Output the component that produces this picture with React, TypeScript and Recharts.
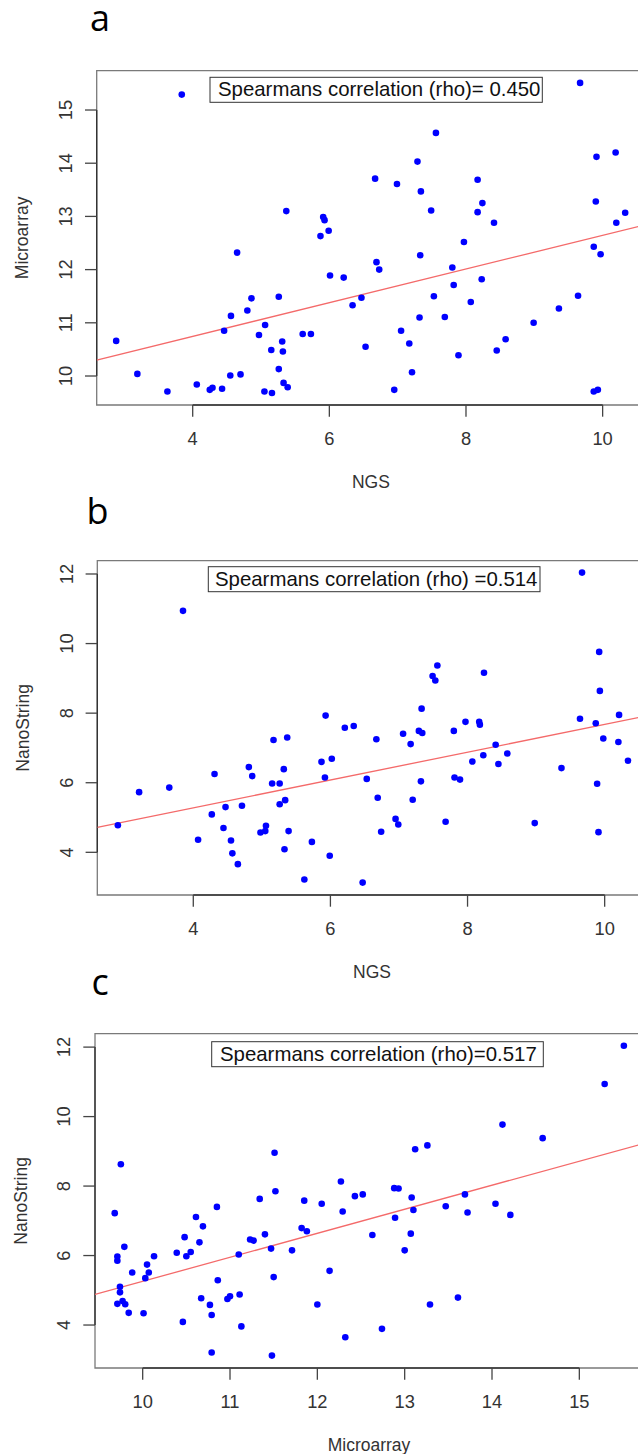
import React from 'react'
import { ScatterChart, Scatter, XAxis, YAxis, ReferenceLine, ReferenceArea, Label } from 'recharts'

// panel a: NGS vs Microarray
const ngsA = [
  3.84, 2.88, 3.19, 3.63, 4.06, 4.25, 4.29, 4.43, 4.46, 4.56, 4.55, 4.65, 4.7, 4.8, 4.86, 4.97,
  5.06, 5.05, 5.16, 5.15, 5.26, 5.26, 5.31, 5.32, 5.33, 5.39, 5.37, 5.61, 5.73, 5.87, 5.91, 5.93,
  5.99, 6.01, 6.21, 6.34, 6.47, 6.53, 6.67, 6.69, 6.73, 6.95, 6.99, 7.05, 7.17, 7.21, 7.29, 7.34,
  7.33, 7.32, 7.49, 7.53, 7.56, 7.69, 7.8, 7.82, 7.89, 7.97, 8.07, 8.17, 8.17, 8.24, 8.23, 8.41,
  8.45, 8.58, 8.99, 9.36, 9.64, 9.67, 9.91, 9.9, 9.87, 9.97, 9.87, 9.93, 10.19, 10.2, 10.33,
]
const microA = [
  15.29, 10.66, 10.04, 9.71, 9.84, 9.74, 9.78, 9.76, 10.85, 11.13, 10.01, 12.32, 10.03, 11.23, 11.46, 10.77,
  10.96, 9.71, 9.68, 10.49, 11.49, 10.13, 10.65, 10.46, 9.87, 9.79, 13.1, 10.79, 10.79, 12.63, 12.99, 12.93,
  12.73, 11.89, 11.85, 11.33, 11.47, 10.55, 13.71, 12.14, 12.0, 9.74, 13.61, 10.85, 10.61, 10.07, 14.03, 13.47,
  12.27, 11.1, 13.11, 11.5, 14.57, 11.11, 12.04, 11.71, 10.39, 12.52, 11.39, 13.69, 13.08, 13.25, 11.82, 12.88,
  10.48, 10.69, 11.0, 11.27, 11.51, 15.51, 14.12, 13.28, 12.43, 12.29, 9.71, 9.74, 14.2, 12.88, 13.07,
]
const fitA = [
  { x: 2.595, y: 10.3 },
  { x: 10.62, y: 12.84 },
]

// panel b: NGS vs NanoString
const ngsB = [
  3.85, 2.9, 3.21, 3.65, 4.07, 4.27, 4.31, 4.44, 4.47, 4.55, 4.57, 4.65, 4.71, 4.81, 4.86, 4.98,
  5.05, 5.06, 5.15, 5.17, 5.26, 5.26, 5.32, 5.34, 5.33, 5.37, 5.39, 5.62, 5.73, 5.87, 5.92, 5.93,
  5.99, 6.02, 6.21, 6.34, 6.47, 6.53, 6.67, 6.69, 6.74, 6.95, 6.99, 7.06, 7.17, 7.2, 7.29, 7.34,
  7.33, 7.32, 7.49, 7.53, 7.56, 7.68, 7.8, 7.81, 7.89, 7.97, 8.07, 8.17, 8.18, 8.24, 8.23, 8.41,
  8.45, 8.58, 8.98, 9.37, 9.64, 9.67, 9.92, 9.93, 9.87, 9.98, 9.89, 9.91, 10.21, 10.2, 10.34,
]
const nanoB = [
  10.94, 4.78, 5.73, 5.86, 4.36, 5.09, 6.25, 4.7, 5.3, 4.34, 3.97, 3.66, 5.34, 6.45, 6.19, 4.57,
  4.61, 4.76, 5.98, 7.23, 5.98, 5.38, 6.39, 5.5, 4.09, 7.3, 4.61, 3.22, 4.3, 6.6, 6.15, 7.93,
  3.9, 6.69, 7.58, 7.63, 3.13, 6.11, 7.25, 5.57, 4.59, 4.96, 4.8, 7.41, 7.11, 5.51, 7.49, 7.43,
  8.13, 6.04, 9.07, 8.94, 9.37, 4.88, 7.49, 6.15, 6.09, 7.75, 6.61, 7.75, 7.67, 9.16, 6.79, 7.09,
  6.54, 6.84, 4.84, 6.42, 7.84, 12.04, 9.76, 8.64, 7.71, 7.27, 5.97, 4.58, 7.95, 7.17, 6.63,
]
const fitB = [
  { x: 2.6, y: 4.72 },
  { x: 10.61, y: 7.92 },
]

// panel c: Microarray vs NanoString
const microC = [
  9.68, 9.75, 9.71, 9.71, 9.79, 9.74, 9.74, 9.71, 9.77, 9.8, 9.84, 9.88, 10.01, 10.03, 10.05, 10.07,
  10.13, 10.39, 10.46, 10.48, 10.5, 10.55, 10.61, 10.65, 10.67, 10.69, 10.77, 10.79, 10.79, 10.85, 10.86, 10.97,
  11.0, 11.1, 11.11, 11.13, 11.23, 11.27, 11.34, 11.4, 11.47, 11.48, 11.5, 11.51, 11.52, 11.71, 11.82, 11.85,
  11.88, 12.0, 12.05, 12.14, 12.27, 12.29, 12.32, 12.43, 12.52, 12.63, 12.74, 12.88, 12.93, 12.89, 13.0, 13.08,
  13.1, 13.07, 13.12, 13.26, 13.29, 13.47, 13.61, 13.69, 13.72, 14.04, 14.12, 14.21, 14.58, 15.29, 15.51,
]
const nanoC = [
  7.22, 8.63, 5.97, 5.85, 6.25, 5.1, 4.94, 4.61, 4.69, 4.6, 4.35, 5.51, 4.34, 5.35, 5.74, 5.51,
  5.98, 6.08, 4.09, 6.53, 5.98, 6.1, 7.11, 6.38, 4.77, 6.84, 4.58, 4.29, 3.21, 7.4, 5.29, 4.75,
  4.83, 6.03, 4.88, 3.96, 6.46, 6.43, 7.63, 6.61, 6.2, 3.12, 5.38, 8.96, 7.85, 6.15, 6.79, 7.58,
  6.7, 4.59, 7.49, 5.56, 8.13, 7.27, 3.65, 7.71, 7.76, 6.59, 3.89, 7.94, 7.93, 7.09, 6.15, 7.67,
  7.31, 6.63, 9.06, 9.17, 4.59, 7.42, 4.79, 7.76, 7.24, 7.49, 9.77, 7.17, 9.38, 10.94, 12.04,
]
const fitC = [
  { x: 9.454, y: 4.88 },
  { x: 15.73, y: 9.22 },
]

const ngsTicks = [4, 6, 8, 10]
const microTicksX = [10, 11, 12, 13, 14, 15]
const microTicksY = [10, 11, 12, 13, 14, 15]
const nanoTicks = [4, 6, 8, 10, 12]

const rhoA = 'Spearmans correlation (rho)= 0.450'
const rhoB = 'Spearmans correlation (rho) =0.514'
const rhoC = 'Spearmans correlation (rho)=0.517'

const axisFont = '"Liberation Sans Narrow", "Liberation Sans", Arial, sans-serif'
const textFont = '"Liberation Sans", Arial, sans-serif'

const Dot = (p: any) => <circle cx={p.cx} cy={p.cy} r={3.3} fill="#0000ff" />

function Panel({
  top,
  plotLeft,
  plotRight,
  xs,
  ys,
  xDomain,
  yDomain,
  xTicks,
  yTicks,
  fit,
  xTitle,
  yTitle,
}: {
  top: number
  plotLeft: number
  plotRight: number
  xs: number[]
  ys: number[]
  xDomain: [number, number]
  yDomain: [number, number]
  xTicks: number[]
  yTicks: number[]
  fit: { x: number; y: number }[]
  xTitle: string
  yTitle: string
}) {
  const data = xs.map((x, i) => ({ x, y: ys[i] }))
  const W = 660
  const H = 500
  return (
    <div style={{ position: 'absolute', left: 0, top, width: W, height: H }}>
      <ScatterChart width={W} height={H} margin={{ top: 70.7, right: W - plotRight, bottom: 0, left: 0 }}>
        <XAxis
          type="number"
          dataKey="x"
          domain={xDomain}
          ticks={xTicks}
          interval={0}
          allowDataOverflow
          axisLine={false}
          tickLine={{ stroke: '#444', strokeWidth: 1.3 }}
          tickSize={11.7}
          tickMargin={0}
          height={95}
          tick={(p: any) => (
            <text x={p.x} y={p.y + 28.3} textAnchor="middle" fontFamily={axisFont} fontSize={18.3} fill="#333">
              {p.payload.value}
            </text>
          )}
        >
          <Label
            content={(p: any) => (
              <text
                x={p.viewBox.x + p.viewBox.width / 2}
                y={p.viewBox.y + 82.5}
                textAnchor="middle"
                fontFamily={textFont}
                fontSize={17.5}
                fill="#333"
              >
                {xTitle}
              </text>
            )}
          />
        </XAxis>
        <YAxis
          type="number"
          dataKey="y"
          domain={yDomain}
          ticks={yTicks}
          interval={0}
          allowDataOverflow
          axisLine={false}
          tickLine={{ stroke: '#444', strokeWidth: 1.3 }}
          tickSize={11.7}
          tickMargin={0}
          width={plotLeft}
          tick={(p: any) => (
            <text
              transform={`translate(${p.x - 13},${p.y}) rotate(-90)`}
              textAnchor="middle"
              fontFamily={axisFont}
              fontSize={18.3}
              fill="#333"
            >
              {p.payload.value}
            </text>
          )}
        >
          <Label
            content={(p: any) => (
              <text
                transform={`translate(${p.viewBox.x + p.viewBox.width - 68.5},${p.viewBox.y + p.viewBox.height / 2}) rotate(-90)`}
                textAnchor="middle"
                fontFamily={textFont}
                fontSize={17.5}
                fill="#333"
              >
                {yTitle}
              </text>
            )}
          />
        </YAxis>
        <ReferenceArea
          x1={xDomain[0]}
          x2={xDomain[1]}
          y1={yDomain[0]}
          y2={yDomain[1]}
          fill="none"
          fillOpacity={0}
          stroke="#7a7a7a"
          strokeWidth={1.3}
          ifOverflow="visible"
        />
        <ReferenceLine
          segment={[
            { x: xTicks[0], y: yDomain[0] },
            { x: xTicks[xTicks.length - 1], y: yDomain[0] },
          ]}
          stroke="#333"
          strokeWidth={1.4}
          ifOverflow="visible"
        />
        <ReferenceLine
          segment={[
            { x: xDomain[0], y: yTicks[0] },
            { x: xDomain[0], y: yTicks[yTicks.length - 1] },
          ]}
          stroke="#333"
          strokeWidth={1.4}
          ifOverflow="visible"
        />
        <Scatter data={data} shape={Dot} isAnimationActive={false} />
        <ReferenceLine segment={fit} stroke="#f46a6a" strokeWidth={1.3} ifOverflow="hidden" />
      </ScatterChart>
    </div>
  )
}

function RhoBox({ x, y, w, tx, text }: { x: number; y: number; w: number; tx: number; text: string }) {
  return (
    <g>
      <rect x={x} y={y} width={w} height={25} fill="#fff" stroke="#333" strokeWidth={1} />
      <text x={tx} y={y + 19} fontFamily={textFont} fontSize={20.4} fill="#111" style={{ whiteSpace: 'pre' }}>
        {text}
      </text>
    </g>
  )
}

export default function App() {
  return (
    <div
      style={{
        position: 'absolute',
        left: 0,
        top: 0,
        width: 638,
        height: 1454,
        overflow: 'hidden',
        background: '#fff',
      }}
    >
      <Panel
        top={0}
        plotLeft={96.7}
        plotRight={645}
        xs={ngsA}
        ys={microA}
        xDomain={[2.595, 10.62]}
        yDomain={[9.455, 15.739]}
        xTicks={ngsTicks}
        yTicks={microTicksY}
        fit={fitA}
        xTitle="NGS"
        yTitle="Microarray"
      />
      <Panel
        top={490}
        plotLeft={97.3}
        plotRight={646.7}
        xs={ngsB}
        ys={nanoB}
        xDomain={[2.6, 10.613]}
        yDomain={[2.773, 12.382]}
        xTicks={ngsTicks}
        yTicks={nanoTicks}
        fit={fitB}
        xTitle="NGS"
        yTitle="NanoString"
      />
      <Panel
        top={962.6}
        plotLeft={95}
        plotRight={643}
        xs={microC}
        ys={nanoC}
        xDomain={[9.454, 15.729]}
        yDomain={[2.763, 12.386]}
        xTicks={microTicksX}
        yTicks={nanoTicks}
        fit={fitC}
        xTitle="Microarray"
        yTitle="NanoString"
      />
      <svg
        width={638}
        height={1454}
        style={{ position: 'absolute', left: 0, top: 0, pointerEvents: 'none' }}
      >
        <text x={90} y={30.7} fontFamily='"Open Sans", sans-serif' fontSize={36} fill="#000">a</text>
        <text x={86.5} y={524.3} fontFamily='"Open Sans", sans-serif' fontSize={36} fill="#000">b</text>
        <text x={91.5} y={995} fontFamily='"Open Sans", sans-serif' fontSize={36} fill="#000">c</text>
        <RhoBox x={210} y={77.3} w={332.3} tx={218} text={rhoA} />
        <RhoBox x={208.3} y={566.7} w={331.7} tx={215} text={rhoB} />
        <RhoBox x={211.7} y={1041.7} w={331.6} tx={220} text={rhoC} />
      </svg>
    </div>
  )
}
